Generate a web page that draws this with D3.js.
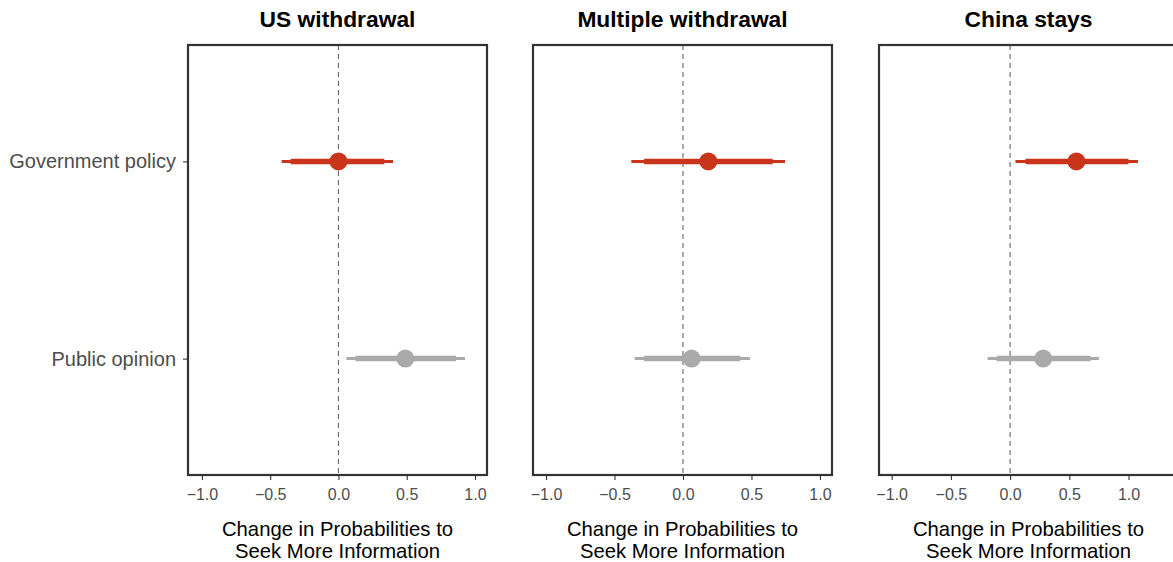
<!DOCTYPE html>
<html>
<head>
<meta charset="utf-8">
<script src="https://cdn.jsdelivr.net/npm/d3@7"></script>
<style>
  html, body { margin: 0; padding: 0; background: #fff; overflow: hidden; }
  svg { display: block; font-family: "Liberation Sans", Arial, sans-serif; }
</style>
</head>
<body>
<svg id="chart" width="1173" height="562"></svg>
<script>
// Facet titles and outcome categories
const panels = ["US withdrawal", "Multiple withdrawal", "China stays"];
const outcomes = ["Government policy", "Public opinion"];

// Point estimates per panel, in outcome order
const estimates = [
  [0.00, 0.49],
  [0.185, 0.063],
  [0.56, 0.28]
];
// Inner (thick) interval bounds
const innerLow  = [[-0.35, 0.124], [-0.285, -0.285], [0.13, -0.113]];
const innerHigh = [[0.336, 0.861], [0.655, 0.418], [1.00, 0.68]];
// Outer (thin) interval bounds
const outerLow  = [[-0.416, 0.058], [-0.377, -0.353], [0.045, -0.19]];
const outerHigh = [[0.40, 0.927], [0.745, 0.489], [1.08, 0.75]];

// Per-panel x domains (last panel has a wider range)
const xDomains = [[-1.102, 1.088], [-1.095, 1.088], [-1.107, 1.418]];
const xTicks = [-1.0, -0.5, 0.0, 0.5, 1.0];

const colors = { "Government policy": "#C9341A", "Public opinion": "#AAAAAA" };

const svg = d3.select("#chart");
const panelLeft = [188, 533, 879];
const panelW = 299;
const panelTop = 45, panelBottom = 475;

const y = d3.scalePoint().domain(outcomes).range([panelTop, panelBottom]).padding(0.59);

panels.forEach((title, i) => {
  const x = d3.scaleLinear().domain(xDomains[i]).range([panelLeft[i], panelLeft[i] + panelW]);
  const g = svg.append("g");

  // zero reference line
  g.append("line")
    .attr("x1", x(0)).attr("x2", x(0))
    .attr("y1", panelTop).attr("y2", panelBottom)
    .attr("stroke", "#666").attr("stroke-width", 1.1)
    .attr("stroke-dasharray", "5,4");

  outcomes.forEach((o, j) => {
    const cy = y(o);
    const c = colors[o];
    g.append("line")
      .attr("x1", x(outerLow[i][j])).attr("x2", x(outerHigh[i][j]))
      .attr("y1", cy).attr("y2", cy)
      .attr("stroke", c).attr("stroke-width", 3);
    g.append("line")
      .attr("x1", x(innerLow[i][j])).attr("x2", x(innerHigh[i][j]))
      .attr("y1", cy).attr("y2", cy)
      .attr("stroke", c).attr("stroke-width", 5.5);
    g.append("circle")
      .attr("cx", x(estimates[i][j])).attr("cy", cy)
      .attr("r", 9).attr("fill", c);
  });

  // panel border
  g.append("rect")
    .attr("x", panelLeft[i]).attr("y", panelTop)
    .attr("width", panelW).attr("height", panelBottom - panelTop)
    .attr("fill", "none").attr("stroke", "#333").attr("stroke-width", 2.2);

  // x axis
  const xAxis = d3.axisBottom(x).tickValues(xTicks)
    .tickFormat(d => d3.format(".1f")(d).replace("-", "\u2212"))
    .tickSize(4).tickPadding(8.5);
  const ax = g.append("g").attr("transform", `translate(0,${panelBottom + 1})`).call(xAxis);
  ax.select(".domain").remove();
  ax.selectAll(".tick line").attr("stroke", "#333").attr("stroke-width", 1.1);
  ax.selectAll(".tick text").attr("fill", "#4D4D4D").attr("font-size", 16)
    .attr("font-family", "Liberation Sans, Arial, sans-serif");

  // y axis only on the first panel
  if (i === 0) {
    const yAxis = d3.axisLeft(y).tickSize(4).tickPadding(7);
    const ay = g.append("g").attr("transform", `translate(${panelLeft[i] - 1},0)`).call(yAxis);
    ay.select(".domain").remove();
    ay.selectAll(".tick line").attr("stroke", "#333").attr("stroke-width", 1.1);
    ay.selectAll(".tick text").attr("fill", "#4D4D4D").attr("font-size", 20)
      .attr("font-family", "Liberation Sans, Arial, sans-serif");
  }

  const cx = panelLeft[i] + panelW / 2;
  // facet title
  g.append("text")
    .attr("x", cx).attr("y", 27)
    .attr("text-anchor", "middle")
    .attr("font-weight", "bold").attr("font-size", 22.8).attr("fill", "#000")
    .text(title);

  // axis title
  const t = g.append("text")
    .attr("text-anchor", "middle").attr("font-size", 20.3).attr("fill", "#000");
  t.append("tspan").attr("x", cx).attr("y", 535.5).text("Change in Probabilities to");
  t.append("tspan").attr("x", cx).attr("y", 557.5).text("Seek More Information");
});
</script>
</body>
</html>
